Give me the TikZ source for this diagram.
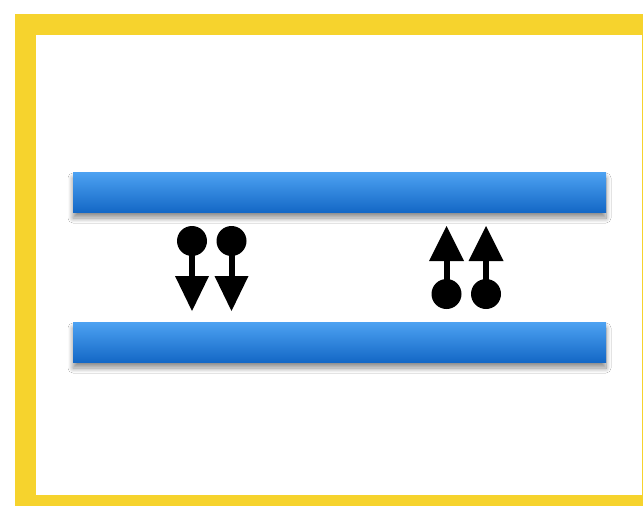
\documentclass[tikz,border=0pt]{standalone}
\usetikzlibrary{shadows.blur}
\definecolor{frameyellow}{HTML}{F6D32D}
\definecolor{bartop}{HTML}{4DA2F2}
\definecolor{barbot}{HTML}{1468C6}
\tikzset{
  bar/.style={rectangle, inner sep=0pt, minimum width=533pt, minimum height=40pt,
    top color=bartop, bottom color=barbot, draw=none,
    blur shadow={shadow xshift=0pt, shadow yshift=-6pt, shadow blur steps=10, shadow blur radius=5pt, shadow blur extra rounding=0pt, shadow opacity=45}},
  downarr/.pic={
    \fill (0,0) circle (15);
    \fill (-3,10) rectangle (3,36);
    \fill (-17,35) -- (17,35) -- (0,70) -- cycle;
  },
  uparr/.pic={
    \fill (0,0) circle (15);
    \fill (-3,-10) rectangle (3,-34);
    \fill (-17.5,-33) -- (17.5,-33) -- (0,-68) -- cycle;
  }
}
\begin{document}
\begin{tikzpicture}[x=1pt,y=-1pt]
\useasboundingbox (0,0) rectangle (643,506);
\clip (0,0) rectangle (643,506);
\fill[white] (0,0) rectangle (643,506);
\draw[frameyellow, line width=21pt] (25.5,24.5) rectangle (652,505);
\node[bar] (topbar) at (339.5,192) {};
\node[bar] (botbar) at (339.5,342) {};
\pic (d1) at (192,241) {downarr};
\pic (d2) at (231.5,241) {downarr};
\pic (u1) at (446.5,294) {uparr};
\pic (u2) at (486,294) {uparr};
\end{tikzpicture}
\end{document}
